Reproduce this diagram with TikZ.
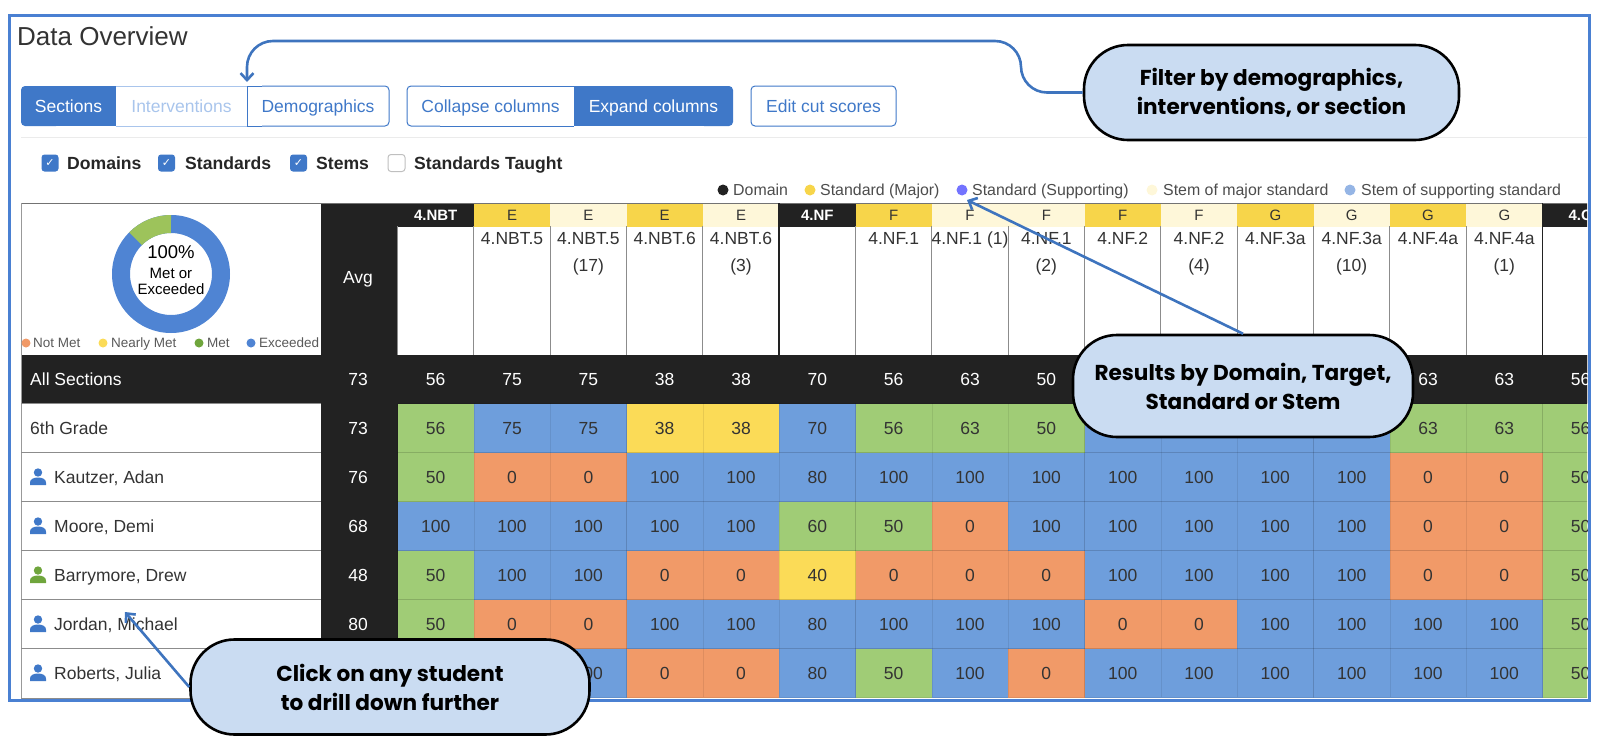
\documentclass[tikz,border=0pt]{standalone}
\usepackage{fontspec}
\setmainfont{Liberation Sans}
\newfontfamily\notefont{Poppins}
\newfontfamily\tickfont{DejaVu Sans}
\usetikzlibrary{positioning,calc,arrows,arrows.meta}

\definecolor{framec}{HTML}{4A80D2}
\definecolor{btnc}{HTML}{3F78C8}
\definecolor{palec}{HTML}{A9C5EC}
\definecolor{blackc}{HTML}{222222}
\definecolor{blu}{HTML}{6E9EDC}
\definecolor{grn}{HTML}{A0CC76}
\definecolor{org}{HTML}{F19A68}
\definecolor{ylw}{HTML}{FBDB57}
\definecolor{headylw}{HTML}{F7D54A}
\definecolor{cream}{HTML}{FEF7D9}
\definecolor{notec}{HTML}{CADCF2}
\definecolor{linec}{HTML}{3E74BE}
\definecolor{ringc}{HTML}{4F84D3}
\definecolor{wedgec}{HTML}{9DC35B}
\definecolor{leafc}{HTML}{6FA53C}

\tikzset{
	labtxt/.style={font=\fontsize{17.5}{27}\selectfont, inner sep=0pt, text=black!80},
	txt/.style={labtxt, text height=12.6pt, text depth=0pt},
	btn/.style={txt, text=btnc},
	cell/.style={txt, minimum width=76.33pt, minimum height=49pt, draw=black, draw opacity=0.08},
	blackcell/.style={cell, text=white, fill=blackc, draw=none},
	toptag/.style={font=\fontsize{15}{18}\selectfont, inner sep=0pt, minimum width=76.33pt, minimum height=23pt, text height=10.8pt, text depth=0pt},
	legtxt/.style={font=\fontsize{15.9}{18}\selectfont, inner sep=0pt, anchor=west, text=black!70, text height=11.4pt, text depth=0pt},
	chartxt/.style={font=\fontsize{13.5}{16}\selectfont, inner sep=0pt, anchor=west, text=black!65, text height=9.7pt, text depth=0pt},
	dot/.style={circle, inner sep=0pt, minimum size=#1},
	checkbox/.style={rounded corners=3pt, inner sep=0pt, minimum size=17pt, text=white, font=\tickfont\fontsize{11}{11}\selectfont},
	checktxt/.style={font=\bfseries\fontsize{17.6}{20}\selectfont, inner sep=0pt, anchor=west, text=black!85, text height=12.6pt, text depth=0pt},
	note/.style={draw=black, line width=2.6pt, fill=notec, rounded corners=44pt, align=center, inner sep=0pt,
		font=\notefont\bfseries\fontsize{21.6}{29}\selectfont},
	pointer/.style={draw=linec, line width=2.6pt, -{Straight Barb[length=7pt,width=13pt]}},
	student/.pic={
		\fill[pic actions] (0,-4.5) circle (4.2);
		\fill[pic actions] (-8,8) -- (8,8) -- (8,5.5) .. controls (8,2) and (4,0.5) .. (0,0.5) .. controls (-4,0.5) and (-8,2) .. (-8,5.5) -- cycle;
	}
}

\begin{document}
\begin{tikzpicture}[x=1pt, y=-1pt]
	\useasboundingbox (0,0) rectangle (1600,736);

	\node[txt, anchor=west, font=\fontsize{26}{30}\selectfont, text height=18.7pt] (title) at (17,36) {Data Overview};

	% button groups
	\fill[btnc, rounded corners=4pt] (21,86) rectangle (60,126);
	\fill[btnc] (40,86) rectangle (116,126);
	\draw[palec, line width=1pt] (116,86) -- (247,86) (116,126) -- (247,126);
	\draw[btnc, line width=1pt] (262,86) -- (247,86) -- (247,126) -- (262,126);
	\draw[btnc, line width=1pt, rounded corners=4pt] (262,86) -- (389,86) -- (389,126) -- (262,126);
	\draw[btnc, line width=1pt] (440,86) -- (574,86) (440,126) -- (574,126);
	\draw[btnc, line width=1pt, rounded corners=4pt] (440,86) -- (407,86) -- (407,126) -- (440,126);
	\fill[btnc, rounded corners=4pt] (700,86) rectangle (733,126);
	\fill[btnc] (574,86) rectangle (715,126);
	\draw[btnc, line width=1pt, rounded corners=4pt] (751,86) rectangle (896,126);

	\node[btn, text=white] (sections) at (68.5,106) {Sections};
	\node[btn, text=palec] (interventions) at (181.5,106) {Interventions};
	\node[btn] (demographics) at (318,106) {Demographics};
	\node[btn] (collapse) at (490.5,106) {Collapse columns};
	\node[btn, text=white] (expand) at (653.5,106) {Expand columns};
	\node[btn] (cutscores) at (823.5,106) {Edit cut scores};

	\draw[black!8, line width=1pt] (21,137) -- (1587,137);

	% check boxes
	\node[checkbox, fill=btnc] (domainbox) at (50,163) {✓};
	\node[checktxt] (domaintxt) at (67,163) {Domains};
	\node[checkbox, fill=btnc] (standardbox) at (166.5,163) {✓};
	\node[checktxt] (standardtxt) at (185,163) {Standards};
	\node[checkbox, fill=btnc] (stembox) at (298.5,163) {✓};
	\node[checktxt] (stemtxt) at (316,163) {Stems};
	\node[checkbox, draw=black!25, line width=1pt] (taughtbox) at (396.5,163) {};
	\node[checktxt] (taughttxt) at (414,163) {Standards Taught};

	% colour key
	\node[dot=11pt, fill=blackc] (keydomain) at (723,190) {};
	\node[legtxt] (keydomaintxt) at (733,190) {Domain};
	\node[dot=11pt, fill=headylw] (keymajor) at (810,190) {};
	\node[legtxt] (keymajortxt) at (820,190) {Standard (Major)};
	\node[dot=11pt, fill=blue!55!white] (keysupport) at (962,190) {};
	\node[legtxt] (keysupporttxt) at (972,190) {Standard (Supporting)};
	\node[dot=11pt, fill=cream] (keystem) at (1152,190) {};
	\node[legtxt] (keystemtxt) at (1163,190) {Stem of major standard};
	\node[dot=11pt, fill=ringc!60!white] (keystemsup) at (1350,190) {};
	\node[legtxt] (keystemsuptxt) at (1361,190) {Stem of supporting standard};

	\begin{scope}
		\clip (20,202) rectangle (1587,699);

		% black frame of the table
		\fill[blackc] (321,203) rectangle (398,698);
		\fill[blackc] (21,355) rectangle (1600,403);
		\draw[black!55, line width=1pt] (21,203) -- (1600,203);
		\draw[black!40, line width=1pt] (21,203) -- (21,698);

		% column heads
		\foreach \c/\tag/\tone/\tagtxt/\lab in {
			0/4.NBT/blackc/white/{},
			1/E/headylw/black/{4.NBT.5},
			2/E/cream/black/{4.NBT.5\\(17)},
			3/E/headylw/black/{4.NBT.6},
			4/E/cream/black/{4.NBT.6\\(3)},
			5/4.NF/blackc/white/{},
			6/F/headylw/black/{4.NF.1},
			7/F/cream/black/{4.NF.1 (1)},
			8/F/cream/black/{4.NF.1\\(2)},
			9/F/headylw/black/{4.NF.2},
			10/F/cream/black/{4.NF.2\\(4)},
			11/G/headylw/black/{4.NF.3a},
			12/G/cream/black/{4.NF.3a\\(10)},
			13/G/headylw/black/{4.NF.4a},
			14/G/cream/black/{4.NF.4a\\(1)},
			15/4.O/blackc/white/{}}{
			\node[toptag, fill=\tone, text=\tagtxt!80] (tag\c) at ({435.7+76.33*\c},215) {\ifnum\c=0 \bfseries\else\ifnum\c=5 \bfseries\else\ifnum\c=15 \bfseries\fi\fi\fi\tag};
			\node[labtxt, align=center, anchor=north] (lab\c) at ({435.7+76.33*\c},232) {\lab};
			\draw[black!45, line width=1pt] ({397.5+76.33*\c},226) -- ({397.5+76.33*\c},355);
		}
		\draw[blackc, line width=1.6pt] (779.2,203) -- (779.2,355);
		\draw[blackc, line width=1.6pt] (1542.5,203) -- (1542.5,355);

		% all sections row
		\node[txt, text=white, anchor=west] (allsec) at (30,379) {All Sections};
		\node[txt, text=white] (avghead) at (358,277) {Avg};
		\node[txt, text=white] (avgall) at (358,379) {73};
		\foreach \c/\v in {0/56,1/75,2/75,3/38,4/38,5/70,6/56,7/63,8/50,13/63,14/63,15/56}{
			\node[blackcell] (all\c) at ({435.7+76.33*\c},379) {\v};
		}

		% result rows
		\foreach \r/\ypos/\vals in {
			1/428/{0/56/grn,1/75/blu,2/75/blu,3/38/ylw,4/38/ylw,5/70/blu,6/56/grn,7/63/grn,8/50/grn,9/{}/blu,10/{}/blu,11/{}/blu,12/{}/blu,13/63/grn,14/63/grn,15/56/grn},
			2/477/{0/50/grn,1/0/org,2/0/org,3/100/blu,4/100/blu,5/80/blu,6/100/blu,7/100/blu,8/100/blu,9/100/blu,10/100/blu,11/100/blu,12/100/blu,13/0/org,14/0/org,15/50/grn},
			3/526/{0/100/blu,1/100/blu,2/100/blu,3/100/blu,4/100/blu,5/60/grn,6/50/grn,7/0/org,8/100/blu,9/100/blu,10/100/blu,11/100/blu,12/100/blu,13/0/org,14/0/org,15/50/grn},
			4/575/{0/50/grn,1/100/blu,2/100/blu,3/0/org,4/0/org,5/40/ylw,6/0/org,7/0/org,8/0/org,9/100/blu,10/100/blu,11/100/blu,12/100/blu,13/0/org,14/0/org,15/50/grn},
			5/624/{0/50/grn,1/0/org,2/0/org,3/100/blu,4/100/blu,5/80/blu,6/100/blu,7/100/blu,8/100/blu,9/0/org,10/0/org,11/100/blu,12/100/blu,13/100/blu,14/100/blu,15/50/grn},
			6/673/{0/{}/blu,1/{}/blu,2/100/blu,3/0/org,4/0/org,5/80/blu,6/50/grn,7/100/blu,8/0/org,9/100/blu,10/100/blu,11/100/blu,12/100/blu,13/100/blu,14/100/blu,15/50/grn}}{
			\foreach \c/\v/\s in \vals {
				\node[cell, fill=\s] (cell\r c\c) at ({435.7+76.33*\c},\ypos) {\v};
			}
			\draw[black!45, line width=1pt] (21,\ypos-24.5) -- (321,\ypos-24.5);
		}
		\draw[black!45, line width=1pt] (21,698) -- (321,698);

		% row heads
		\node[txt, anchor=west] (sixth) at (30,428) {6th Grade};
		\node[txt, text=white] (avgsixth) at (358,428) {73};
		\foreach \r/\ypos/\who/\tone/\mean in {
			2/477/{Kautzer, Adan}/btnc/76,
			3/526/{Moore, Demi}/btnc/68,
			4/575/{Barrymore, Drew}/leafc/48,
			5/624/{Jordan, Michael}/btnc/80,
			6/673/{Roberts, Julia}/btnc/{}}{
			\pic[fill=\tone] at (38,\ypos) {student};
			\node[txt, anchor=west] (name\r) at (54,\ypos) {\who};
			\node[txt, text=white] (avg\r) at (358,\ypos) {\mean};
		}
	\end{scope}

	% donut chart
	\fill[ringc, even odd rule] (171,274) circle (59) (171,274) circle (41);
	\fill[wedgec] (171,215) arc (270:225:59) -- (142,245) arc (225:270:41) -- cycle;
	\node[inner sep=0pt, font=\fontsize{18.5}{20}\selectfont, text=black] (pct) at (171,252) {100\%};
	\node[inner sep=0pt, align=center, font=\fontsize{15}{16}\selectfont, text=black] (metor) at (171,281) {Met or\\Exceeded};

	\node[dot=9pt, fill=org] (notmetdot) at (26,343) {};
	\node[chartxt] (notmet) at (33,343) {Not Met};
	\node[dot=9pt, fill=ylw] (nearlydot) at (103,343) {};
	\node[chartxt] (nearly) at (111,343) {Nearly Met};
	\node[dot=9pt, fill=leafc] (metdot) at (199,343) {};
	\node[chartxt] (met) at (207,343) {Met};
	\node[dot=9pt, fill=ringc] (exceeddot) at (251,343) {};
	\node[chartxt] (exceed) at (259,343) {Exceeded};

	% outer frame
	\draw[framec, line width=3pt] (9,15) rectangle (1589,700);

	% call outs
	\node[note, minimum width=375pt, minimum height=95pt] (filternote) at (1271.5,92.5) {Filter by demographics,\\interventions, or section};
	\node[note, minimum width=340pt, minimum height=102pt] (resultnote) at (1243,386) {Results by Domain, Target,\\Standard or Stem};
	\node[note, minimum width=399pt, minimum height=95pt] (clicknote) at (390,687) {Click on any student\\to drill down further};

	\coordinate (filtertip) at (247,82);
	\coordinate (filterbend) at (1021,41);
	\coordinate (resulttip) at (967,200);
	\coordinate (clicktip) at (125,612);

	\draw[pointer, rounded corners=26pt] (filternote.west) -| (filterbend) -| (filtertip);
	\draw[pointer] (resultnote.north) -- (resulttip);
	\draw[pointer] (clicknote.west) -- (clicktip);
\end{tikzpicture}
\end{document}
